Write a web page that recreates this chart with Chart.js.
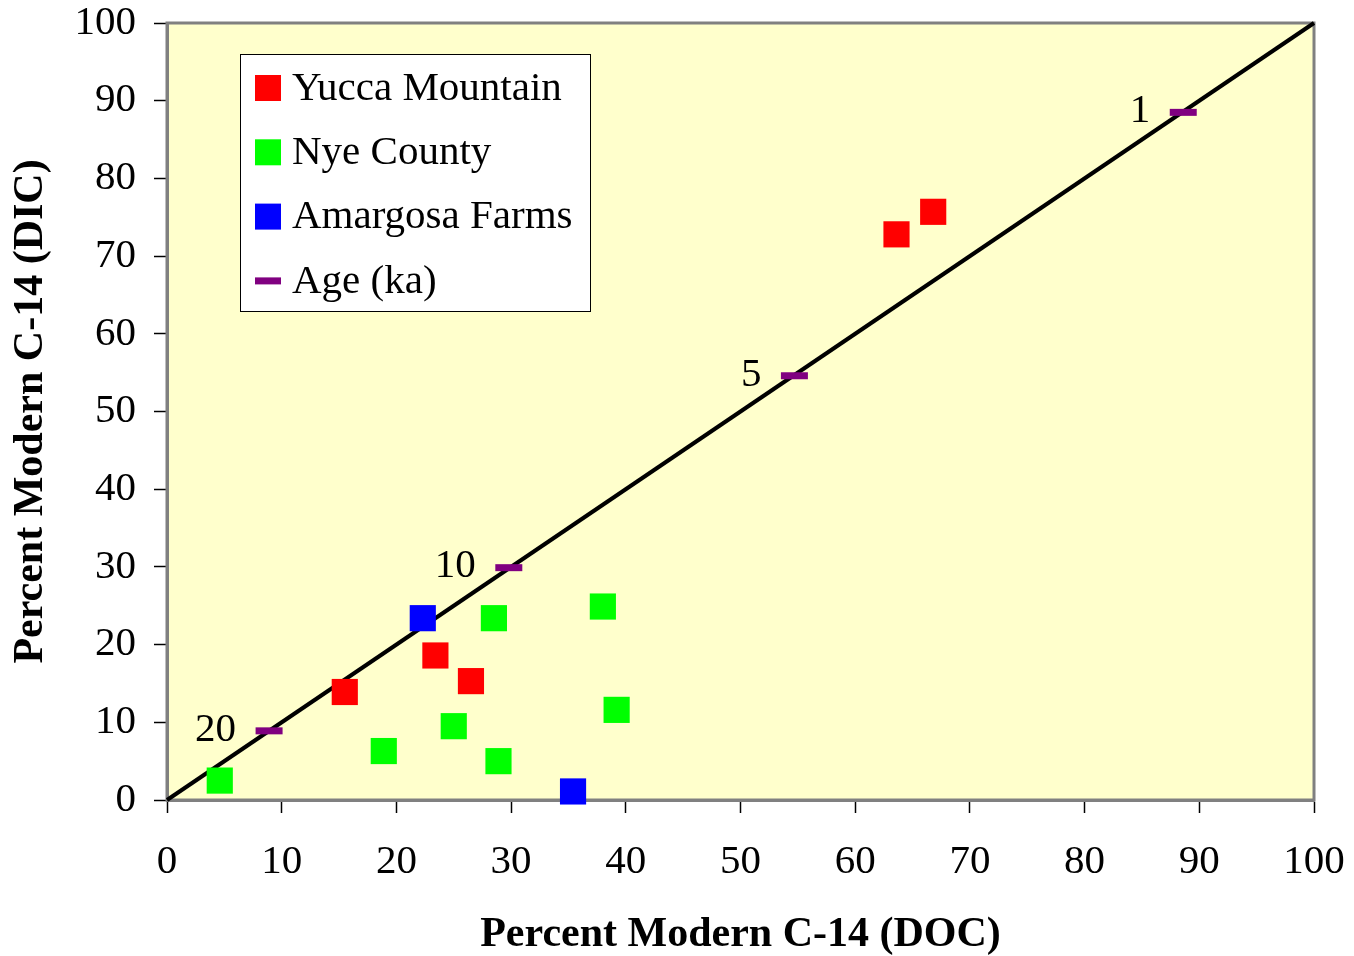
<!DOCTYPE html>
<html>
<head>
<meta charset="utf-8">
<script src="https://cdn.jsdelivr.net/npm/chart.js@4.4.0/dist/chart.umd.min.js"></script>
<style>
  html, body { margin: 0; padding: 0; background: #ffffff; }
  #wrap { width: 1354px; height: 956px; }
</style>
</head>
<body>
<div id="wrap"><canvas id="c" width="1354" height="956"></canvas></div>
<script>
// ---- Data ----
const yuccaDOC = [15.5, 23.4, 26.5, 63.6, 66.8];
const yuccaDIC = [13.9, 18.6, 15.3, 72.8, 75.7];

const nyeDOC = [4.6, 18.9, 25.0, 28.9, 28.5, 38.0, 39.2];
const nyeDIC = [2.5, 6.3, 9.5, 5.0, 23.4, 24.9, 11.6];

const amargosaDOC = [22.3, 35.4];
const amargosaDIC = [23.4, 1.1];

const ageLabels = ['1', '5', '10', '20'];
const ageDOC = [88.6, 54.7, 29.8, 8.9];
const ageDIC = [88.5, 54.6, 29.9, 8.9];

const lineDOC = [0, 100];
const lineDIC = [0, 100];

const seriesNames = ['Yucca Mountain', 'Nye County', 'Amargosa Farms', 'Age (ka)'];
const xTitle = 'Percent Modern C-14 (DOC)';
const yTitle = 'Percent Modern C-14 (DIC)';

// ---- Helpers ----
const pts = (xs, ys) => xs.map((x, i) => ({ x: x, y: ys[i] }));
const FONT = '"Liberation Serif", "Times New Roman", serif';
const COLORS = ['#FF0000', '#00FF00', '#0000FF', '#800080'];

const plotBg = {
  id: 'plotBg',
  beforeDraw(chart) {
    const { ctx, chartArea: a } = chart;
    ctx.save();
    ctx.fillStyle = '#FFFFCC';
    ctx.fillRect(a.left, a.top, a.right - a.left, a.bottom - a.top);
    ctx.restore();
  },
  beforeDatasetsDraw(chart) {
    const { ctx, chartArea: a } = chart;
    ctx.save();
    ctx.strokeStyle = '#808080';
    ctx.lineWidth = 3;
    ctx.strokeRect(a.left, a.top, a.right - a.left, a.bottom - a.top);
    ctx.restore();
  }
};

const ageText = {
  id: 'ageText',
  afterDatasetsDraw(chart) {
    const { ctx } = chart;
    const idx = chart.data.datasets.findIndex(d => d.label === seriesNames[3]);
    const meta = chart.getDatasetMeta(idx);
    ctx.save();
    ctx.font = '41px ' + FONT;
    ctx.fillStyle = '#000';
    ctx.textAlign = 'right';
    ctx.textBaseline = 'middle';
    meta.data.forEach((el, i) => {
      ctx.fillText(ageLabels[i], el.x - 33, el.y - 1);
    });
    ctx.restore();
  }
};

const boxLegend = {
  id: 'boxLegend',
  afterDraw(chart) {
    const { ctx, chartArea: a } = chart;
    const left = a.left + 73, top = a.top + 31, w = 350, h = 257;
    ctx.save();
    ctx.fillStyle = '#FFFFFF';
    ctx.fillRect(left, top, w, h);
    ctx.strokeStyle = '#000';
    ctx.lineWidth = 1;
    ctx.strokeRect(left + 0.5, top + 0.5, w, h);
    ctx.font = '41px ' + FONT;
    ctx.textBaseline = 'middle';
    ctx.textAlign = 'left';
    seriesNames.forEach((name, i) => {
      const cy = top + 34 + i * 64.3;
      const mx = left + 15;
      ctx.fillStyle = COLORS[i];
      if (i < 3) {
        ctx.fillRect(mx, cy - 13, 26, 26);
      } else {
        ctx.fillRect(mx, cy - 3.5, 26, 7);
      }
      ctx.fillStyle = '#000';
      ctx.fillText(name, mx + 37, cy + 1);
    });
    ctx.restore();
  }
};

function zeroPad(s) {
  s.paddingLeft = 0; s.paddingRight = 0; s.paddingTop = 0; s.paddingBottom = 0;
}

const axisCommon = {
  type: 'linear',
  min: 0,
  max: 100,
  grid: {
    drawOnChartArea: false,
    drawTicks: true,
    tickLength: 13,
    tickColor: '#000',
    tickWidth: 1.5
  },
  border: { display: true, color: '#808080', width: 3 }
};

new Chart(document.getElementById('c'), {
  data: {
    datasets: [
      {
        type: 'scatter', label: seriesNames[3], data: pts(ageDOC, ageDIC),
        pointStyle: 'line', pointRadius: 13.5, borderColor: COLORS[3], borderWidth: 7,
        backgroundColor: COLORS[3], order: 0, clip: false
      },
      {
        type: 'scatter', label: seriesNames[0], data: pts(yuccaDOC, yuccaDIC),
        pointStyle: 'rect', pointRadius: 18.5, backgroundColor: COLORS[0], borderWidth: 0,
        order: 1, clip: false
      },
      {
        type: 'scatter', label: seriesNames[1], data: pts(nyeDOC, nyeDIC),
        pointStyle: 'rect', pointRadius: 18.5, backgroundColor: COLORS[1], borderWidth: 0,
        order: 1, clip: false
      },
      {
        type: 'scatter', label: seriesNames[2], data: pts(amargosaDOC, amargosaDIC),
        pointStyle: 'rect', pointRadius: 18.5, backgroundColor: COLORS[2], borderWidth: 0,
        order: 1, clip: false
      },
      {
        type: 'line', label: 'line', data: pts(lineDOC, lineDIC),
        borderColor: '#000', borderWidth: 4, pointRadius: 0, fill: false, order: 10, clip: false
      }
    ]
  },
  options: {
    responsive: false,
    animation: false,
    events: [],
    layout: { padding: { top: 23, right: 40, left: 0, bottom: 0 } },
    plugins: { legend: { display: false }, tooltip: { enabled: false } },
    scales: {
      x: Object.assign({}, axisCommon, {
        position: 'bottom',
        ticks: { stepSize: 10, color: '#000', font: { family: FONT, size: 41 }, padding: 25, maxRotation: 0 },
        title: { display: true, text: xTitle, color: '#000', font: { family: FONT, size: 42, weight: 'bold' }, padding: { top: 0, bottom: -4 } },
        afterFit(s) { s.height = 156; zeroPad(s); }
      }),
      y: Object.assign({}, axisCommon, {
        position: 'left',
        ticks: { stepSize: 10, color: '#000', font: { family: FONT, size: 41 }, padding: 18 },
        title: { display: true, text: yTitle, color: '#000', font: { family: FONT, size: 42, weight: 'bold' }, padding: { top: 6, bottom: 0 } },
        afterFit(s) { s.width = 167; zeroPad(s); }
      })
    }
  },
  plugins: [plotBg, ageText, boxLegend]
});
</script>
</body>
</html>
